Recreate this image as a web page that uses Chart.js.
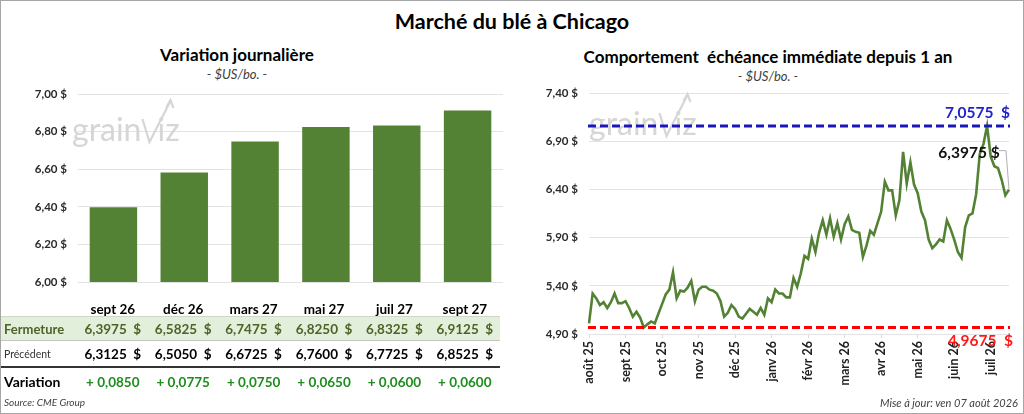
<!DOCTYPE html>
<html lang="fr">
<head>
<meta charset="utf-8">
<script src="https://cdn.jsdelivr.net/npm/chart.js@4.4.0/dist/chart.umd.min.js"></script>
<style>
  html, body { margin: 0; padding: 0; background: #fff; }
  body { width: 1024px; height: 414px; position: relative; overflow: hidden; font-family: Lato, "Open Sans", sans-serif; color: #000; }
  #frame { position: absolute; left: 0; top: 0; width: 1024px; height: 414px; box-sizing: border-box; border: 1px solid #a6a6a6; pointer-events: none; }
  .t { position: absolute; white-space: nowrap; text-align: center; }
  canvas { position: absolute; top: 0; }
  .row { position: absolute; left: 1px; width: 499px; display: flex; align-items: center; box-sizing: border-box; }
  .lab { width: 77px; padding-left: 3px; box-sizing: border-box; }
  .cell { width: 70.8px; text-align: center; font-weight: 700; font-size: 13.5px; }
</style>
</head>
<body>
<div class="t" style="left:0;width:1024px;top:8px;font-size:21.5px;font-weight:700;">Marché du blé à Chicago</div>
<div class="t" style="left:0;width:474px;top:44px;font-size:17px;font-weight:700;">Variation journalière</div>
<div class="t" style="left:0;width:474px;top:66px;font-size:13px;font-style:italic;color:#404040;">- $US/bo. -</div>
<div class="t" style="left:512px;width:512px;top:46px;font-size:17px;font-weight:700;">Comportement&nbsp; échéance immédiate depuis 1 an</div>
<div class="t" style="left:512px;width:512px;top:68px;font-size:13px;font-style:italic;color:#404040;">- $US/bo. -</div>

<canvas id="bars" width="512" height="300" style="left:0;width:512px;height:300px;"></canvas>
<canvas id="nearby" width="512" height="414" style="left:512px;width:512px;height:414px;"></canvas>

<div id="tbl"></div>
<div class="t" style="left:4px;top:396px;font-size:10px;font-style:italic;color:#404040;text-align:left;">Source: CME Group</div>
<div class="t" style="right:6px;top:396px;font-size:11px;font-style:italic;color:#404040;text-align:right;">Mise à jour: ven 07 août 2026</div>
<div id="frame"></div>

<script>
// contrats à terme - variation journalière
const contracts = ['sept 26', 'déc 26', 'mars 27', 'mai 27', 'juil 27', 'sept 27'];
const closes = [6.3975, 6.5825, 6.7475, 6.8250, 6.8325, 6.9125];
const previous = [6.3125, 6.5050, 6.6725, 6.7600, 6.7725, 6.8525];
const barTicks = [6.00, 6.20, 6.40, 6.60, 6.80, 7.00];

// échéance immédiate, 10 points par mois
const months = ['août 25', 'sept 25', 'oct 25', 'nov 25', 'déc 25', 'janv 26',
  'févr 26', 'mars 26', 'avr 26', 'mai 26', 'juin 26', 'juil 26'];
const pointsPerMonth = 10;
const nearby = [
  5.01, 5.32, 5.27, 5.20, 5.23, 5.17, 5.23, 5.32, 5.22, 5.22,
  5.24, 5.17, 5.08, 5.13, 5.07, 4.9675, 5.00, 5.03, 5.01, 5.11,
  5.21, 5.31, 5.36, 5.54, 5.27, 5.35, 5.34, 5.38, 5.45, 5.24,
  5.36, 5.39, 5.39, 5.36, 5.35, 5.32, 5.24, 5.08, 5.12, 5.20,
  5.16, 5.08, 5.06, 5.11, 5.16, 5.13, 5.10, 5.17, 5.10, 5.27,
  5.23, 5.36, 5.32, 5.32, 5.28, 5.28, 5.48, 5.39, 5.53, 5.71,
  5.68, 5.89, 5.75, 5.95, 6.08, 5.93, 6.10, 5.91, 6.05, 5.88,
  6.04, 6.12, 5.98, 5.96, 5.95, 5.70, 5.82, 5.97, 5.93, 6.05,
  6.17, 6.48, 6.39, 6.39, 6.13, 6.29, 6.79, 6.46, 6.68, 6.45,
  6.36, 6.17, 6.08, 5.88, 5.79, 5.83, 5.88, 5.86, 6.08, 5.99,
  5.88, 5.75, 5.69, 6.01, 6.13, 6.15, 6.35, 6.77, 6.87, 7.0575,
  6.74, 6.64, 6.62, 6.50, 6.34, 6.3975
];
const lineTicks = [4.90, 5.40, 5.90, 6.40, 6.90, 7.40];
const yearHigh = 7.0575;
const yearLow = 4.9675;

const green = '#548235';
const gridColor = '#e3e3e3';

Chart.defaults.font.family = 'Lato, "Open Sans", sans-serif';
Chart.defaults.animation = false;

function money(v, d) { return v.toFixed(d).replace('.', ',') + ' $'; }

function drawLogo(ctx, x, y) {
  ctx.save();
  ctx.fillStyle = '#d6d6d6';
  ctx.strokeStyle = '#d6d6d6';
  ctx.font = '32px Lato, sans-serif';
  ctx.textBaseline = 'alphabetic';
  ctx.fillText('grain', x, y + 42);
  const w = ctx.measureText('grain').width;
  ctx.lineWidth = 2.2;
  ctx.beginPath();
  ctx.moveTo(x + w + 1, y + 20);
  ctx.lineTo(x + w + 8, y + 43);
  ctx.lineTo(x + w + 29, y + 2);
  ctx.stroke();
  ctx.beginPath();
  ctx.moveTo(x + w + 25, y + 8);
  ctx.lineTo(x + w + 29, y + 1);
  ctx.lineTo(x + w + 32, y + 9);
  ctx.stroke();
  ctx.fillText('iz', x + w + 16, y + 42);
  ctx.restore();
}

const logo = {
  id: 'logo',
  beforeDatasetsDraw(chart, args, opts) {
    drawLogo(chart.ctx, chart.chartArea.left + opts.dx, chart.chartArea.top + opts.dy);
  }
};

// graphique à barres
new Chart(document.getElementById('bars'), {
  type: 'bar',
  data: {
    labels: contracts,
    datasets: [{
      data: closes,
      backgroundColor: green,
      borderWidth: 0,
      categoryPercentage: 1,
      barPercentage: 0.67
    }]
  },
  options: {
    responsive: false,
    layout: { padding: { left: 0, top: 94, right: 9, bottom: 16 } },
    plugins: { legend: { display: false }, tooltip: { enabled: false }, logo: { dx: -6, dy: 5 } },
    scales: {
      x: { display: false },
      y: {
        min: 6, max: 7,
        afterBuildTicks(s) { s.ticks = barTicks.map(v => ({ value: v })); },
        afterFit(s) { s.width = 78; },
        grid: { color: gridColor, drawTicks: false },
        border: { display: false },
        ticks: { padding: 11, color: '#2a2a2a', font: { size: 11.5, weight: '700' }, callback: v => money(v, 2) }
      }
    }
  },
  plugins: [logo]
});

// annotations: sommet, creux, dernier prix
const marks = {
  id: 'marks',
  afterDatasetsDraw(chart) {
    const { ctx, chartArea: a } = chart;
    const y = chart.scales.y;
    const hi = y.getPixelForValue(yearHigh);
    const lo = y.getPixelForValue(yearLow);
    ctx.save();
    ctx.lineWidth = 2.8;
    ctx.setLineDash([8, 4]);
    ctx.strokeStyle = '#1818bb';
    ctx.beginPath(); ctx.moveTo(a.left - 1, hi); ctx.lineTo(a.right + 1, hi); ctx.stroke();
    ctx.strokeStyle = '#ff0000';
    ctx.beginPath(); ctx.moveTo(a.left - 1, lo); ctx.lineTo(a.right + 1, lo); ctx.stroke();
    ctx.setLineDash([]);

    ctx.font = '700 15.5px Lato, sans-serif';
    ctx.textBaseline = 'middle';
    ctx.textAlign = 'right';
    ctx.fillStyle = '#2222cc';
    ctx.fillText(money(yearHigh, 4).replace(' $', '  $'), a.right + 1, hi - 13);
    ctx.fillStyle = '#ff1a1a';
    ctx.fillText(money(yearLow, 4).replace(' $', '  $'), a.right + 4, lo + 14);

    const meta = chart.getDatasetMeta(0);
    const last = meta.data[meta.data.length - 1];
    const ly = last.y - 37;
    ctx.strokeStyle = '#b0b0b0';
    ctx.lineWidth = 1;
    ctx.beginPath();
    ctx.moveTo(last.x - 10, ly - 2);
    ctx.lineTo(last.x - 3, ly - 2);
    ctx.lineTo(last.x, last.y);
    ctx.stroke();
    ctx.textAlign = 'center';
    ctx.fillStyle = '#111';
    ctx.fillText(money(nearby[nearby.length - 1], 4), last.x - 40, ly);
    ctx.restore();
  }
};

const lineLabels = nearby.map((v, i) => i % pointsPerMonth === 0 ? months[i / pointsPerMonth] : '');

new Chart(document.getElementById('nearby'), {
  type: 'line',
  data: {
    labels: lineLabels,
    datasets: [{
      data: nearby,
      borderColor: green,
      borderWidth: 2.6,
      pointRadius: 0,
      tension: 0,
      fill: false
    }]
  },
  options: {
    responsive: false,
    layout: { padding: { left: 0, top: 93, right: 15, bottom: 20 } },
    plugins: { legend: { display: false }, tooltip: { enabled: false }, logo: { dx: 0, dy: 0 } },
    scales: {
      x: {
        afterFit(s) { s.height = 60; },
        grid: { drawOnChartArea: false, drawTicks: true, tickLength: 4, color: '#d9d9d9' },
        border: { display: false },
        ticks: {
          autoSkip: false, minRotation: 90, maxRotation: 90, padding: 3,
          color: '#222', font: { size: 12.5, weight: '700' },
          callback(v) { const l = this.getLabelForValue(v); return l === '' ? null : l; }
        }
      },
      y: {
        min: 4.9, max: 7.4,
        afterBuildTicks(s) { s.ticks = lineTicks.map(v => ({ value: v })); },
        afterFit(s) { s.width = 77; },
        grid: { color: gridColor, drawTicks: false },
        border: { display: false },
        ticks: { padding: 11, color: '#2a2a2a', font: { size: 11.5, weight: '700' }, callback: v => money(v, 2) }
      }
    }
  },
  plugins: [logo, marks]
});

// tableau sous les barres
const tbl = document.getElementById('tbl');
function addRow(top, height, style, label, labStyle, cells, cellStyle) {
  const r = document.createElement('div');
  r.className = 'row';
  r.style.cssText = `top:${top}px;height:${height}px;${style}`;
  let html = `<div class="lab" style="${labStyle}">${label}</div>`;
  cells.forEach(c => { html += `<div class="cell" style="${cellStyle}">${c}</div>`; });
  r.innerHTML = html;
  tbl.appendChild(r);
}
const fmt = v => v.toFixed(4).replace('.', ',');
addRow(299, 19, '', '', '', contracts, 'font-size:13.5px;');
addRow(316, 25, 'background:#e2efda;border-top:1px solid #cfd8c8;border-bottom:1px solid #c4c4c4;',
  'Fermeture', 'font-weight:700;font-size:13px;color:#4f6228;',
  closes.map(v => fmt(v) + '&nbsp;&nbsp;$'), 'color:#4f6228;');
addRow(341, 25, '', 'Précédent', 'font-size:10.5px;color:#333;',
  previous.map(v => fmt(v) + '&nbsp;&nbsp;$'), '');
addRow(366, 2, 'background:#333;', '', '', [], '');
addRow(368, 27, '', 'Variation', 'font-weight:700;font-size:14px;',
  closes.map((c, i) => '+ ' + fmt(c - previous[i])), 'color:#1e8c1e;font-weight:700;font-size:13.5px;');
</script>
</body>
</html>
